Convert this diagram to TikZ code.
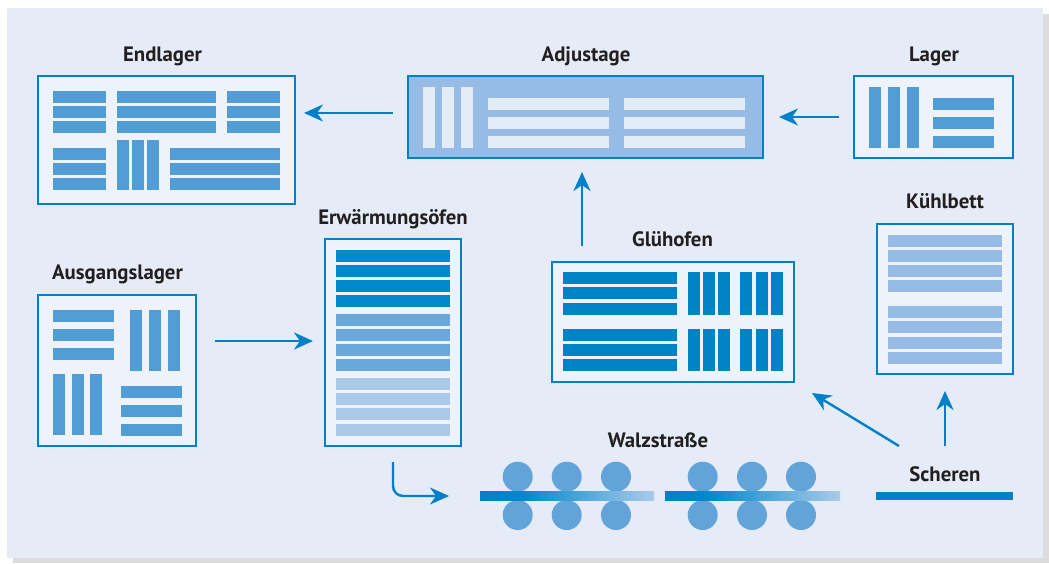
\documentclass[tikz,border=0pt]{standalone}
\usepackage{fontspec}
\setmainfont{PT Sans}
\usetikzlibrary{arrows.meta}
\definecolor{panel}{HTML}{E5ECF7}
\definecolor{shadowc}{HTML}{DCDCDC}
\definecolor{boxfill}{HTML}{EEF3FB}
\definecolor{border}{HTML}{0080C6}
\definecolor{bar}{HTML}{519ED6}
\definecolor{glu}{HTML}{0083C6}
\definecolor{erwA}{HTML}{0088CC}
\definecolor{erwB}{HTML}{6AA7DA}
\definecolor{erwC}{HTML}{ABCAEA}
\definecolor{pale}{HTML}{96BCE5}
\definecolor{adjbar}{HTML}{E3ECF7}
\definecolor{roll}{HTML}{62A4DA}
\definecolor{txt}{HTML}{231F20}
\pgfdeclarehorizontalshading{stripshade}{100bp}{color(0bp)=(border); color(25bp)=(border); color(37bp)=(erwA); color(75bp)=(erwC); color(100bp)=(erwC)}
\tikzset{
  box/.style={draw=border, line width=2.2pt, fill=boxfill, rectangle, inner sep=0pt},
  lbl/.style={anchor=base, text=txt, font=\bfseries\fontsize{20.8}{24}\selectfont, inner sep=0pt},
  arr/.style={draw=border, line width=2.4pt, -{Stealth[length=19pt, width=17pt, inset=6pt]}},
}
\begin{document}
\begin{tikzpicture}[x=1pt, y=-1pt]
\useasboundingbox (0,0) rectangle (1049,563);
\fill[white] (0,0) rectangle (1049,563);
\fill[shadowc] (13,14) rectangle (1049,563);
\fill[panel] (7,8) rectangle (1043,558);

% ---------- boxes ----------
\node[box, minimum width=256.8pt, minimum height=127.8pt] (endl) at (166.5,140) {};
\node[box, fill=pale, minimum width=354.8pt, minimum height=81.8pt] (adj) at (585.5,117) {};
\node[box, minimum width=158.8pt, minimum height=81.8pt] (lager) at (933.5,117) {};
\node[box, minimum width=157.8pt, minimum height=150.8pt] (ausg) at (117,370.5) {};
\node[box, minimum width=135.8pt, minimum height=206.8pt] (erw) at (393,342.5) {};
\node[box, minimum width=241.8pt, minimum height=119.8pt] (glu) at (673,322) {};
\node[box, minimum width=135.8pt, minimum height=149.8pt] (kuehl) at (945,299) {};

% ---------- labels ----------
\node[lbl] (lendl) at (162.5,61.5) {Endlager};
\node[lbl] (ladj) at (586,61) {Adjustage};
\node[lbl] (llager) at (934,61) {Lager};
\node[lbl] (lausg) at (117.5,279.5) {Ausgangslager};
\node[lbl] (lerw) at (393,224.5) {Erwärmungsöfen};
\node[lbl] (lglu) at (672.5,246) {Glühofen};
\node[lbl] (lkuehl) at (945,208) {Kühlbett};
\node[lbl] (lwalz) at (658,447) {Walzstraße};
\node[lbl] (lscher) at (945,481) {Scheren};

% ---------- Endlager bars ----------
\foreach \ya/\yb in {91/103,106/118,121/133}{
  \foreach \xa/\xb in {53/106,117/216,227/280}{
    \fill[bar] (\xa,\ya) rectangle (\xb,\yb);}}
\foreach \ya/\yb in {148/160,163/175,178/190}{
  \fill[bar] (53,\ya) rectangle (106,\yb);
  \fill[bar] (170,\ya) rectangle (280,\yb);}
\foreach \xa/\xb in {117/129,132/144,147/159}{
  \fill[bar] (\xa,140) rectangle (\xb,190);}

% ---------- Adjustage bars ----------
\foreach \xa/\xb in {423/435,442/454,461/473}{
  \fill[adjbar] (\xa,87) rectangle (\xb,148);}
\foreach \ya/\yb in {98/110,117/129,136/148}{
  \fill[adjbar] (488,\ya) rectangle (609,\yb);
  \fill[adjbar] (624,\ya) rectangle (745,\yb);}

% ---------- Lager bars ----------
\foreach \xa/\xb in {869/881,888/900,907/919}{
  \fill[bar] (\xa,87) rectangle (\xb,148);}
\foreach \ya/\yb in {98/110,117/129,136/148}{
  \fill[bar] (933,\ya) rectangle (994,\yb);}

% ---------- Ausgangslager bars ----------
\foreach \ya/\yb in {310/322,329/341,348/360}{
  \fill[bar] (53,\ya) rectangle (114,\yb);}
\foreach \xa/\xb in {130/142,149/161,168/180}{
  \fill[bar] (\xa,310) rectangle (\xb,371);}
\foreach \xa/\xb in {53/65,72/84,90/102}{
  \fill[bar] (\xa,374) rectangle (\xb,435);}
\foreach \ya/\yb in {386/398,405/417,424/436}{
  \fill[bar] (121,\ya) rectangle (182,\yb);}

% ---------- Erwaermungsoefen bars ----------
\foreach \ya/\yb in {250/262,265/277,280/292,295/307}{
  \fill[erwA] (336,\ya) rectangle (450,\yb);}
\foreach \ya/\yb in {314/326,329/341,344/356,359/371}{
  \fill[erwB] (336,\ya) rectangle (450,\yb);}
\foreach \ya/\yb in {378/390,393/405,408/420,424/436}{
  \fill[erwC] (336,\ya) rectangle (450,\yb);}

% ---------- Gluehofen bars ----------
\foreach \ya/\yb in {272/284,287/299,303/315,329/341,344/356,359/371}{
  \fill[glu] (563,\ya) rectangle (677,\yb);}
\foreach \xa/\xb in {688/700,703/715,718/730,740/752,756/768,771/783}{
  \fill[glu] (\xa,272) rectangle (\xb,315);
  \fill[glu] (\xa,329) rectangle (\xb,371);}

% ---------- Kuehlbett bars ----------
\foreach \ya/\yb in {235/247,250/262,265/277,280/292,306/318,321/333,337/349,352/364}{
  \fill[pale] (888,\ya) rectangle (1002,\yb);}

% ---------- Walzstrasse ----------
\foreach \cx in {517.7,566.7,616,702.7,752,801}{
  \fill[roll] (\cx,476.7) circle (15);
  \fill[roll] (\cx,515) circle (15);}
\shade[shading=stripshade] (480,491) rectangle (654,500);
\shade[shading=stripshade] (665,491) rectangle (840,500);

% ---------- Scheren ----------
\fill[border] (876,492) rectangle (1013,500);

% ---------- connectors ----------
\coordinate (a1s) at (393,113); \coordinate (a1e) at (304,113);
\coordinate (a2s) at (839,117); \coordinate (a2e) at (779,117);
\coordinate (a3s) at (582,246); \coordinate (a3e) at (582,172);
\coordinate (a4s) at (215,341); \coordinate (a4e) at (313,341);
\coordinate (a5s) at (393,462); \coordinate (a5e) at (449,496);
\coordinate (a6s) at (899,446); \coordinate (a6e) at (812,393);
\coordinate (a7s) at (945,446); \coordinate (a7e) at (945,391);

\draw[arr] (a1s) -- (a1e);
\draw[arr] (a2s) -- (a2e);
\draw[arr] (a3s) -- (a3e);
\draw[arr] (a4s) -- (a4e);
\draw[arr, rounded corners=10pt] (a5s) |- (a5e);
\draw[arr] (a6s) -- (a6e);
\draw[arr] (a7s) -- (a7e);
\end{tikzpicture}
\end{document}
